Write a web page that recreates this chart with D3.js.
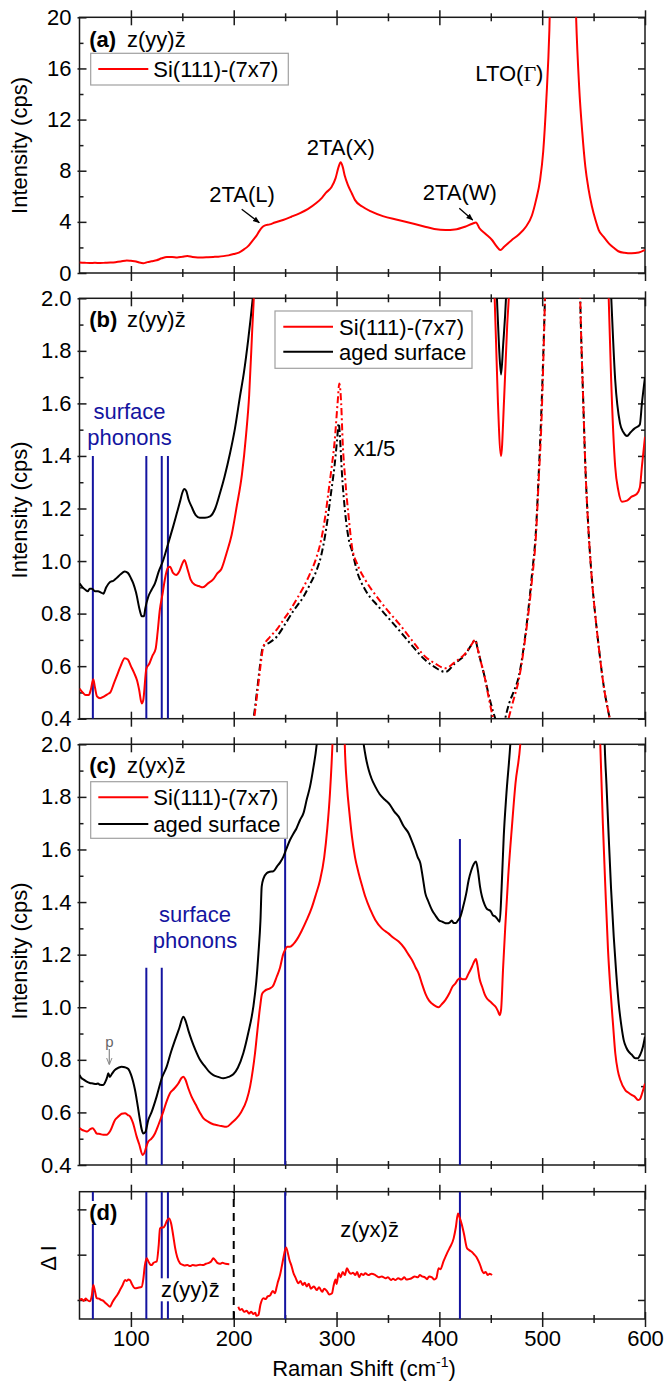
<!DOCTYPE html>
<html>
<head>
<meta charset="utf-8">
<script src="https://cdn.jsdelivr.net/npm/d3@7"></script>
<style>
  body { margin: 0; background: #fff; }
  text { font-family: "Liberation Sans", Arial, sans-serif; }
</style>
</head>
<body>
<svg id="chart" width="664" height="1383"></svg>
<script>
// ---------- Raman spectra, Raman shift (cm^-1) vs intensity ----------

// (a) z(yy)z̄, Si(111)-(7x7), full range
const aSi7x7 = [[50,0.82],[55,0.8],[60,0.78],[65,0.8],[70,0.78],[75,0.8],[80,0.82],[85,0.85],[90,0.9],[96,0.98],[100,0.95],[105,0.9],[108,0.82],[112,0.76],[116,0.85],[120,0.92],[125,1.0],[130,1.15],[135,1.25],[140,1.26],[145,1.22],[150,1.28],[155,1.33],[160,1.25],[165,1.22],[170,1.22],[175,1.24],[180,1.26],[185,1.28],[190,1.32],[195,1.38],[200,1.48],[205,1.6],[210,1.85],[214,2.1],[218,2.5],[222,2.9],[225,3.3],[228,3.6],[230,3.7],[235,3.8],[240,3.95],[248,4.15],[256,4.4],[264,4.67],[272,5.0],[280,5.45],[286,5.9],[290,6.3],[295,6.7],[299,7.4],[302,8.3],[304,8.66],[306,8.3],[308,7.6],[311,6.9],[315,6.2],[318,5.7],[325,5.2],[334,4.8],[345,4.45],[360,4.15],[375,3.85],[386,3.62],[395,3.45],[406,3.36],[415,3.4],[425,3.62],[432,3.85],[435.6,3.95],[439,3.5],[445,3.05],[451,2.6],[456,2.05],[459.3,1.8],[463,2.05],[470,2.55],[477,3.0],[484,3.6],[490,4.5],[494,5.7],[498,7.3],[501,9.5],[504,13.5],[507,19],[510,30],[515,60],[520,90],[525,60],[530,30],[533,20],[536,14.5],[539,11],[542,8.3],[545,6.6],[548.4,5.2],[552,4.1],[555,3.36],[560,2.8],[565,2.3],[570,1.95],[574,1.7],[580,1.58],[587,1.54],[594,1.6],[600,1.8]];

// (b) z(yy)z̄, low-intensity detail
const bSi7x7 = [[50,0.515],[53,0.5],[56,0.49],[59,0.49],[61,0.51],[63.4,0.55],[65,0.52],[67,0.485],[70,0.478],[74,0.485],[78,0.495],[80,0.5],[83,0.53],[86,0.56],[90,0.6],[94,0.63],[97,0.625],[100,0.6],[103,0.575],[106,0.545],[108,0.51],[110.5,0.458],[112,0.47],[115,0.59],[118,0.61],[121,0.64],[124,0.665],[126,0.73],[128,0.81],[131,0.88],[133,0.93],[136,0.975],[138,0.978],[141,0.955],[144,0.947],[147,0.96],[150,0.99],[152,1.004],[155,0.97],[158,0.93],[162,0.91],[166,0.905],[170,0.9],[175,0.915],[180,0.93],[184,0.953],[188,0.97],[193,1.03],[198,1.1],[203,1.21],[208,1.33],[212,1.48],[215,1.63],[218,1.88],[220,2.05],[224,2.8],[229,3.6],[240,3.9],[300,7.5],[400,3.4],[440,3.3],[450,2.6],[453,2.1],[455,1.85],[457,1.6],[460,1.40],[463,1.62],[466,1.9],[468,2.05],[470,2.4],[490,4.5],[520,90],[555,3.4],[562,2.3],[564.7,2.0],[567,1.7],[571,1.36],[574,1.27],[577.6,1.226],[582.5,1.23],[587,1.245],[592,1.255],[595,1.28],[597,1.36],[600,1.473]];
const bAged = [[50,0.915],[53,0.9],[56,0.89],[58,0.885],[60,0.895],[62,0.895],[65,0.885],[68,0.885],[71,0.88],[73.2,0.876],[76,0.9],[79.7,0.92],[83,0.925],[86,0.935],[90,0.95],[94,0.96],[97,0.955],[100,0.935],[102.3,0.915],[105,0.88],[108.8,0.81],[110.5,0.79],[112.7,0.79],[114,0.82],[116.9,0.864],[120,0.89],[123.4,0.915],[127,0.96],[131.5,1.004],[135,1.05],[138,1.09],[141,1.13],[144.5,1.18],[148,1.23],[150,1.26],[152,1.274],[154,1.265],[156,1.235],[159,1.207],[163,1.175],[167,1.165],[172,1.165],[177,1.17],[182,1.2],[186.6,1.258],[191,1.32],[196.4,1.41],[201,1.5],[206,1.625],[210,1.72],[214,1.84],[218.5,2.0],[222,2.15],[230,3.7],[300,7.5],[400,3.5],[450,2.7],[454,2.2],[456,2.0],[458,1.82],[460,1.71],[462,1.82],[464.8,2.0],[468,2.4],[490,4.5],[520,90],[560,3.0],[565,2.2],[567.2,2.0],[571,1.69],[575.7,1.524],[579,1.49],[582.5,1.476],[586,1.49],[590,1.505],[592.2,1.51],[595,1.52],[597,1.6],[600,1.70]];
// (b) same spectra scaled by 1/5
const bSi7x7Fifth = [[214,0.3],[217,0.36],[219.7,0.4],[223,0.5],[226,0.6],[228.8,0.674],[235,0.71],[242,0.74],[248.3,0.776],[256,0.82],[262,0.86],[267.8,0.90],[274,0.95],[280.7,1.017],[285,1.08],[289,1.17],[292,1.258],[295,1.35],[298,1.45],[301,1.6],[302.7,1.676],[304.5,1.6],[306,1.45],[308.5,1.308],[312,1.16],[315,1.055],[320,0.99],[328,0.928],[340,0.86],[350,0.81],[360.5,0.763],[373,0.7],[386.3,0.636],[396,0.61],[405.8,0.592],[415,0.615],[425.3,0.649],[431,0.68],[435,0.70],[437,0.67],[439.8,0.625],[444,0.56],[448,0.48],[451.2,0.42],[455,0.36],[460,0.32],[465,0.36],[467.3,0.4],[472,0.47],[477.2,0.547],[484,0.72],[490.1,0.928],[494,1.1],[496.6,1.308],[499,1.5],[501.5,1.816],[503,2.05],[510,4],[520,20],[530,4],[537,2.0],[540,1.6],[541.9,1.37],[545,1.12],[548.4,0.928],[552,0.78],[555,0.674],[560,0.52],[564.7,0.42],[568,0.36]];
const bAgedFifth = [[214,0.3],[217,0.36],[219.2,0.4],[222.5,0.5],[225.5,0.6],[228.5,0.674],[235,0.69],[241.8,0.712],[250,0.76],[258,0.81],[267.8,0.864],[274,0.91],[280.7,0.966],[285,1.02],[289,1.1],[292,1.18],[295,1.27],[298,1.36],[300.5,1.46],[302.1,1.524],[303.5,1.46],[305,1.35],[308.5,1.18],[312,1.08],[315,1.04],[320,0.96],[328,0.89],[340,0.83],[350,0.785],[360.5,0.738],[373,0.68],[386.3,0.623],[396,0.595],[405.8,0.578],[415,0.61],[425.3,0.645],[431,0.68],[435,0.70],[437,0.67],[439.8,0.625],[444,0.56],[448,0.49],[452,0.43],[454.4,0.4],[458,0.35],[461,0.34],[464,0.4],[468,0.46],[472,0.5],[477.2,0.56],[484,0.73],[490.1,0.95],[494,1.12],[496.6,1.33],[499,1.55],[501.5,1.84],[503,2.05],[510,4],[520,20],[530,4],[537,2.0],[540,1.6],[541.9,1.37],[545,1.12],[548.4,0.928],[552,0.78],[555,0.674],[560,0.52],[564.7,0.42],[568,0.36]];

// (c) z(yx)z̄
const cSi7x7 = [[50,0.54],[52,0.535],[55,0.53],[57.6,0.527],[60,0.535],[62.8,0.54],[65,0.53],[66.7,0.52],[70,0.518],[73,0.515],[76.4,0.515],[80,0.53],[84.5,0.571],[88,0.585],[91,0.595],[94.3,0.597],[97,0.59],[99.1,0.585],[102,0.56],[105.6,0.508],[108,0.48],[111.4,0.438],[113,0.445],[115,0.47],[116.9,0.489],[120,0.5],[123.4,0.52],[127,0.555],[131.5,0.603],[135,0.645],[138,0.673],[142,0.69],[146.1,0.71],[149,0.73],[151,0.736],[153,0.725],[156,0.69],[159,0.66],[163,0.63],[167,0.6],[170.4,0.578],[175,0.565],[180,0.555],[183.4,0.552],[188,0.548],[193,0.545],[198,0.56],[202.9,0.578],[207,0.6],[212.6,0.647],[216,0.7],[218.5,0.76],[220.7,0.825],[223,0.91],[225.6,1.0],[227.5,1.05],[230,1.062],[235.3,1.072],[238,1.08],[241.8,1.116],[245,1.15],[248,1.2],[249.9,1.218],[252,1.23],[254.7,1.23],[258,1.24],[261.2,1.256],[266,1.29],[271,1.332],[276,1.38],[280,1.43],[284,1.484],[288,1.57],[291,1.68],[293.6,1.814],[296,2.0],[299,2.4],[303,2.8],[306,2.4],[308,2.0],[310.2,1.839],[312.5,1.74],[315,1.649],[318,1.57],[321.5,1.51],[325,1.46],[328,1.42],[333,1.37],[337.7,1.332],[344,1.3],[350.7,1.28],[355,1.265],[360.4,1.25],[366,1.225],[370,1.2],[373.4,1.18],[377,1.15],[379.9,1.128],[383,1.09],[386.3,1.053],[390,1.025],[392.8,1.014],[396,1.005],[399.3,1.0],[402,1.01],[405.8,1.027],[410,1.055],[413,1.08],[415.5,1.09],[418,1.105],[420.4,1.11],[423,1.106],[425.2,1.106],[428,1.125],[431.7,1.154],[434,1.175],[435.6,1.183],[437,1.16],[439,1.11],[441.5,1.079],[444,1.05],[446.3,1.033],[450,1.02],[452.8,1.009],[455,1.0],[457,0.985],[458.7,0.97],[460,0.99],[462,1.15],[464.1,1.306],[467,1.5],[470.6,1.688],[474,1.85],[478.7,2.0],[485,2.5],[520,20],[550,2.6],[556.5,2.0],[559,1.7],[561.4,1.459],[564,1.22],[566.2,1.078],[569,0.93],[571.1,0.825],[573.5,0.76],[576,0.723],[580.8,0.685],[584,0.675],[587.4,0.666],[590,0.66],[593.2,0.647],[595,0.65],[597,0.67],[600,0.71]];
const cAged = [[50,0.742],[52,0.73],[54,0.725],[57,0.717],[60,0.712],[63,0.71],[66,0.708],[68,0.71],[70,0.705],[73.2,0.704],[75,0.715],[77,0.735],[78,0.749],[79.5,0.735],[81.3,0.745],[84,0.76],[88,0.77],[91,0.774],[94,0.772],[97.5,0.765],[100,0.745],[104,0.685],[106,0.64],[108.8,0.571],[110.5,0.535],[112,0.52],[114,0.525],[116.9,0.571],[120,0.6],[125,0.66],[130,0.73],[134.8,0.774],[139,0.83],[142.9,0.875],[147,0.92],[151,0.964],[153,0.95],[156,0.91],[159,0.875],[163,0.835],[167.2,0.80],[172,0.775],[176,0.755],[180.2,0.742],[185,0.735],[189.9,0.73],[195,0.735],[199.6,0.745],[204,0.77],[209.3,0.825],[214,0.9],[219,1.0],[222,1.1],[224,1.203],[226,1.33],[227.2,1.459],[229,1.49],[232,1.51],[235,1.515],[238.5,1.517],[242,1.535],[245,1.55],[248.3,1.573],[251,1.6],[254.7,1.636],[258,1.66],[261,1.68],[264.5,1.712],[268,1.74],[271,1.79],[274.2,1.839],[277,1.9],[280.7,2.0],[290,2.6],[303,3.2],[315,2.5],[326.4,2.0],[328.5,1.95],[331.3,1.902],[334,1.87],[337.7,1.839],[342,1.81],[347.4,1.788],[352,1.77],[356,1.745],[360.4,1.725],[365,1.69],[370.2,1.661],[373,1.635],[376.6,1.598],[379,1.57],[381.5,1.548],[384,1.49],[386.3,1.434],[389,1.405],[392.8,1.37],[396,1.35],[399.3,1.332],[403,1.325],[407.4,1.319],[410,1.322],[412,1.33],[414,1.32],[416,1.32],[418,1.33],[420.4,1.344],[423,1.38],[426,1.43],[428.5,1.484],[431,1.52],[433.5,1.545],[435.6,1.554],[437.5,1.52],[439.5,1.46],[441.5,1.42],[444,1.39],[446,1.375],[448,1.37],[450,1.365],[452,1.35],[454.4,1.345],[456.5,1.335],[458.7,1.325],[460.5,1.45],[462.6,1.649],[465,1.8],[469,2.0],[480,3],[520,20],[558,2.6],[560.8,2.0],[562.5,1.85],[564.7,1.649],[567,1.45],[569.6,1.268],[572,1.13],[574.4,1.015],[577,0.93],[579.3,0.875],[582,0.845],[584.1,0.831],[587,0.82],[590.6,0.806],[593,0.806],[595.4,0.82],[598,0.85],[600,0.888]];

// (d) difference spectra ΔI (arb. units)
const dDiffYY = [[50,0.0],[52,0.02],[54,-0.02],[56,0.03],[57.6,0.0],[60.2,-0.03],[62,0.1],[63.4,0.33],[65,0.2],[66.7,0.04],[69,0.03],[71,0.0],[73.2,-0.02],[75,-0.06],[77,-0.1],[79.7,-0.15],[82,-0.05],[84.5,0.04],[87,0.12],[89.4,0.22],[92,0.33],[94.3,0.44],[96,0.42],[97.5,0.45],[99.1,0.44],[101,0.35],[104,0.257],[107,0.27],[110.5,0.29],[112,0.45],[113.5,0.75],[115.3,0.92],[117,0.85],[118.5,0.79],[120.2,0.77],[122,0.82],[124,0.84],[125.1,0.85],[127,1.2],[128.3,1.58],[130,1.6],[131.5,1.6],[133.2,1.65],[135,1.75],[137.1,1.80],[139,1.7],[141.3,1.40],[143,1.15],[145,0.95],[147.8,0.81],[150,0.78],[152,0.76],[155,0.77],[157.5,0.75],[160,0.77],[163,0.76],[167.2,0.78],[170,0.77],[173,0.8],[176,0.82],[178,0.85],[180.2,0.92],[182,0.88],[184,0.82],[186.6,0.8],[189,0.82],[192,0.8],[195.7,0.79]];
const dDiffYX = [[204.5,-0.15],[206,-0.22],[208,-0.2],[210,-0.26],[212.6,-0.24],[215,-0.3],[217,-0.26],[219.1,-0.31],[221,-0.28],[222,-0.35],[224,-0.33],[226,-0.1],[228.9,0.04],[231,0.02],[233,0.08],[235.3,0.1],[238,0.2],[240,0.15],[241.8,0.29],[243,0.4],[245,0.55],[246.7,0.735],[248.5,0.95],[250.9,1.16],[252.5,1.05],[254,0.9],[256.4,0.735],[258,0.6],[260,0.5],[262.9,0.37],[265,0.42],[267,0.33],[269,0.38],[271,0.3],[273,0.36],[275,0.25],[278,0.3],[280.7,0.22],[283,0.28],[286,0.18],[288,0.25],[290.5,0.2],[293,0.12],[295.6,0.147],[297,0.3],[299,0.45],[300,0.35],[302.1,0.59],[304,0.5],[306,0.62],[308,0.55],[310.2,0.70],[312,0.62],[314,0.58],[316,0.6],[318.3,0.55],[320,0.62],[322,0.5],[324,0.58],[326,0.55],[328,0.59],[331,0.55],[334,0.58],[337.7,0.55],[341,0.5],[344,0.52],[347.4,0.48],[350,0.5],[353,0.44],[355,0.47],[357.1,0.44],[360,0.48],[363,0.45],[366,0.5],[368,0.45],[370.2,0.46],[373,0.48],[376,0.52],[379,0.5],[381,0.55],[383.1,0.52],[386,0.5],[388,0.46],[390,0.52],[392.8,0.5],[395,0.45],[397,0.48],[399.3,0.70],[401,0.68],[404,0.85],[407.4,1.03],[410,1.15],[413.9,1.36],[416,1.6],[418.1,1.91],[420,1.8],[422,1.65],[424,1.45],[426.9,1.14],[429,1.1],[431.7,1.06],[434,1.0],[436,0.95],[438.2,0.85],[440,0.75],[441.5,0.65],[443.1,0.59],[445,0.62],[447,0.55],[449,0.58],[451.2,0.55]];

// surface phonon positions (cm^-1)
const yyModes = [63, 115, 130, 136];
const yxModesLow = [115, 130];
const yxModesHigh = [250, 420];
const diffModes = [63, 115, 130, 136, 250, 420];

// axis ticks
const shiftMajor = [100, 200, 300, 400, 500, 600];
const shiftMinor = [150, 250, 350, 450, 550];
const aTicks = [0, 4, 8, 12, 16, 20];
const aMinor = [2, 6, 10, 14, 18];
const bcTicks = [0.4, 0.6, 0.8, 1.0, 1.2, 1.4, 1.6, 1.8, 2.0];
const bcMinor = [0.5, 0.7, 0.9, 1.1, 1.3, 1.5, 1.7, 1.9];
const dTicks = [0, 1, 2];

const RED = "#ff0000", BLACK = "#000000", BLUE = "#1414a0";
const FONT = 22;

const svg = d3.select("#chart");
const x = d3.scaleLinear().domain([50, 600]).range([79.5, 645]);

const panels = {
  a: { y: d3.scaleLinear().domain([0, 20]).range([273, 17.3]), major: aTicks, minor: aMinor, fmt: d3.format("d") },
  b: { y: d3.scaleLinear().domain([0.4, 2.0]).range([718.7, 298.3]), major: bcTicks, minor: bcMinor, fmt: d3.format(".1f") },
  c: { y: d3.scaleLinear().domain([0.4, 2.0]).range([1165, 744.3]), major: bcTicks, minor: bcMinor, fmt: d3.format(".1f") },
  d: { y: d3.scaleLinear().domain([-0.42, 2.39]).range([1319, 1191.7]), major: dTicks, minor: [], fmt: null }
};

const defs = svg.append("defs");
defs.append("marker").attr("id", "arrow").attr("viewBox", "0 0 10 10")
  .attr("refX", 9).attr("refY", 5).attr("markerWidth", 7).attr("markerHeight", 7)
  .attr("orient", "auto").attr("markerUnits", "userSpaceOnUse")
  .append("path").attr("d", "M0,1 L10,5 L0,9 z").attr("fill", "#000");
defs.append("marker").attr("id", "arrowGray").attr("viewBox", "0 0 10 10")
  .attr("refX", 9).attr("refY", 5).attr("markerWidth", 7).attr("markerHeight", 7)
  .attr("orient", "auto").attr("markerUnits", "userSpaceOnUse")
  .append("path").attr("d", "M0,1 L10,5 L0,9").attr("fill", "none").attr("stroke", "#888").attr("stroke-width", 1.4);

function styleAxis(g) {
  g.attr("font-size", FONT).attr("font-family", '"Liberation Sans", Arial, sans-serif');
  g.select(".domain").remove();
  g.selectAll(".tick line").attr("stroke", "#1a1a1a").attr("stroke-width", 1.5);
  g.selectAll(".tick text").attr("fill", "#000");
}

function frame(key, showShiftLabels) {
  const p = panels[key];
  const [yb, yt] = p.y.range();
  const g = svg.append("g").attr("class", "frame-" + key);

  // bottom and top shift axes: major ticks cross the spine, minor ticks shorter
  const bot = g.append("g").attr("transform", `translate(0,${yb})`)
    .call(d3.axisBottom(x).tickValues(shiftMajor).tickSize(8).tickPadding(3)
      .tickFormat(showShiftLabels ? d3.format("d") : () => ""));
  styleAxis(bot); bot.selectAll(".tick line").attr("y1", -7);
  const botMin = g.append("g").attr("transform", `translate(0,${yb})`)
    .call(d3.axisBottom(x).tickValues(shiftMinor).tickSize(4).tickFormat(() => ""));
  styleAxis(botMin); botMin.selectAll(".tick line").attr("y1", -4);

  const top = g.append("g").attr("transform", `translate(0,${yt})`)
    .call(d3.axisTop(x).tickValues(shiftMajor).tickSize(7).tickFormat(() => ""));
  styleAxis(top); top.selectAll(".tick line").attr("y1", 8);
  const topMin = g.append("g").attr("transform", `translate(0,${yt})`)
    .call(d3.axisTop(x).tickValues(shiftMinor).tickSize(4).tickFormat(() => ""));
  styleAxis(topMin); topMin.selectAll(".tick line").attr("y1", 4);

  // intensity axes: ticks pointing into the plot
  const left = g.append("g").attr("transform", `translate(${x.range()[0]},0)`)
    .call(d3.axisLeft(p.y).tickValues(p.major).tickSize(2).tickPadding(6)
      .tickFormat(p.fmt ? p.fmt : () => ""));
  styleAxis(left); left.selectAll(".tick line").attr("x1", 7);
  if (p.minor.length) {
    const leftMin = g.append("g").attr("transform", `translate(${x.range()[0]},0)`)
      .call(d3.axisLeft(p.y).tickValues(p.minor).tickSize(0).tickFormat(() => ""));
    styleAxis(leftMin); leftMin.selectAll(".tick line").attr("x1", 4);
  }
  const right = g.append("g").attr("transform", `translate(${x.range()[1]},0)`)
    .call(d3.axisRight(p.y).tickValues(p.major).tickSize(0).tickFormat(() => ""));
  styleAxis(right); right.selectAll(".tick line").attr("x1", -7);
  if (p.minor.length) {
    const rightMin = g.append("g").attr("transform", `translate(${x.range()[1]},0)`)
      .call(d3.axisRight(p.y).tickValues(p.minor).tickSize(0).tickFormat(() => ""));
    styleAxis(rightMin); rightMin.selectAll(".tick line").attr("x1", -4);
  }

  g.append("rect")
    .attr("x", x.range()[0]).attr("y", yt)
    .attr("width", x.range()[1] - x.range()[0]).attr("height", yb - yt)
    .attr("fill", "none").attr("stroke", "#1a1a1a").attr("stroke-width", 1.5);

  // clip for the spectra
  defs.append("clipPath").attr("id", "clip-" + key).append("rect")
    .attr("x", x.range()[0]).attr("y", yt)
    .attr("width", x.range()[1] - x.range()[0]).attr("height", yb - yt);
}

function plotArea(key) {
  return svg.append("g").attr("clip-path", `url(#clip-${key})`);
}

function spectrum(g, key, data, color, dash) {
  const y = panels[key].y;
  const line = d3.line().x(d => x(d[0])).y(d => y(d[1])).curve(d3.curveMonotoneX);
  g.append("path").datum(data)
    .attr("d", line).attr("fill", "none")
    .attr("stroke", color).attr("stroke-width", 2)
    .attr("stroke-linejoin", "round")
    .attr("stroke-dasharray", dash || null);
}

function modeLines(g, key, modes, top) {
  const y = panels[key].y;
  g.selectAll(null).data(modes).enter().append("line")
    .attr("x1", d => x(d)).attr("x2", d => x(d))
    .attr("y1", y.range()[0]).attr("y2", top === undefined ? y.range()[1] : y(top))
    .attr("stroke", BLUE).attr("stroke-width", 2);
}

function label(px, py, str, opts = {}) {
  const t = svg.append("text").attr("x", px).attr("y", py)
    .attr("font-size", opts.size || FONT)
    .attr("font-weight", opts.bold ? "bold" : null)
    .attr("fill", opts.color || "#000")
    .attr("text-anchor", opts.anchor || "start")
    .text(str);
  if (opts.bg) {
    const bb = t.node().getBBox();
    svg.insert("rect", () => t.node())
      .attr("x", bb.x - 1).attr("y", bb.y + 1).attr("width", bb.width + 2).attr("height", bb.height - 2)
      .attr("fill", "#fff");
  }
  return t;
}

function legend(bx, by, bw, bh, entries, lineX0, lineX1, textX) {
  svg.append("rect").attr("x", bx).attr("y", by).attr("width", bw).attr("height", bh)
    .attr("fill", "#fff").attr("stroke", "#a0a0a0").attr("stroke-width", 1.2);
  entries.forEach(e => {
    svg.append("line").attr("x1", lineX0).attr("x2", lineX1).attr("y1", e.y).attr("y2", e.y)
      .attr("stroke", e.color).attr("stroke-width", 2);
    label(textX, e.y + 8, e.text);
  });
}

const zbar = "z(yy)z\u0304";
const zbarYX = "z(yx)z\u0304";

// ---------- panel (a) ----------
frame("a", false);
spectrum(plotArea("a"), "a", aSi7x7, RED);
label(89.3, 46.7, "(a)", { bold: true });
label(127, 46.7, zbar);
legend(90.7, 53.3, 197.6, 31.7, [{ y: 69, color: RED, text: "Si(111)-(7x7)" }], 98.3, 148.3, 153.3);
label(209.3, 201.7, "2TA(L)");
label(306.7, 155, "2TA(X)");
label(422.7, 200, "2TA(W)");
const lto = label(475.3, 81, "LTO(");
lto.append("tspan").attr("font-family", '"Liberation Serif", "Times New Roman", serif').text("\u0393");
lto.append("tspan").text(")");
svg.append("line").attr("x1", 241.7).attr("y1", 209.3).attr("x2", 259.3).attr("y2", 222.7)
  .attr("stroke", "#000").attr("stroke-width", 1.3).attr("marker-end", "url(#arrow)");
svg.append("line").attr("x1", 459.3).attr("y1", 208.3).attr("x2", 472.7).attr("y2", 220)
  .attr("stroke", "#000").attr("stroke-width", 1.3).attr("marker-end", "url(#arrow)");

// ---------- panel (b) ----------
frame("b", false);
const gb = plotArea("b");
modeLines(gb, "b", yyModes, 1.4);
spectrum(gb, "b", bAged, BLACK);
spectrum(gb, "b", bSi7x7, RED);
spectrum(gb, "b", bAgedFifth, BLACK, "7,3,2,3");
spectrum(gb, "b", bSi7x7Fifth, RED, "7,3,2,3");
label(89.3, 326.7, "(b)", { bold: true });
label(127, 326.7, zbar);
label(129.5, 419, "surface", { anchor: "middle", color: BLUE });
label(129.5, 445, "phonons", { anchor: "middle", color: BLUE });
label(353.7, 456, "x1/5");
legend(275, 311, 197, 57.3, [
  { y: 326.7, color: RED, text: "Si(111)-(7x7)" },
  { y: 351.7, color: BLACK, text: "aged surface" }
], 283.3, 333, 339);

// ---------- panel (c) ----------
frame("c", false);
const gc = plotArea("c");
modeLines(gc, "c", yxModesLow, 1.15);
modeLines(gc, "c", yxModesHigh, 1.64);
spectrum(gc, "c", cAged, BLACK);
spectrum(gc, "c", cSi7x7, RED);
label(89.3, 772.7, "(c)", { bold: true });
label(127, 772.7, zbarYX);
legend(90.7, 781.7, 196.6, 56.6, [
  { y: 797.3, color: RED, text: "Si(111)-(7x7)" },
  { y: 824, color: BLACK, text: "aged surface" }
], 98.3, 148.3, 153.3);
label(195, 921.7, "surface", { anchor: "middle", color: BLUE });
label(195, 948.3, "phonons", { anchor: "middle", color: BLUE });
label(109.3, 1046.7, "p", { size: 15, color: "#666", anchor: "middle" });
svg.append("line").attr("x1", 109.3).attr("y1", 1049).attr("x2", 109.3).attr("y2", 1064)
  .attr("stroke", "#888").attr("stroke-width", 1.2).attr("marker-end", "url(#arrowGray)");

// ---------- panel (d) ----------
frame("d", true);
const gd = plotArea("d");
modeLines(gd, "d", diffModes);
gd.append("line").attr("x1", x(200)).attr("x2", x(200))
  .attr("y1", panels.d.y.range()[0]).attr("y2", panels.d.y.range()[1])
  .attr("stroke", "#000").attr("stroke-width", 2).attr("stroke-dasharray", "8,6");
spectrum(gd, "d", dDiffYY, RED);
spectrum(gd, "d", dDiffYX, RED);
label(89.3, 1220, "(d)", { bold: true, bg: true });
label(161, 1297.3, zbar, { bg: true });
label(340.3, 1236.7, zbarYX);

// ---------- axis titles ----------
[[145.5, "Intensity (cps)"], [510, "Intensity (cps)"], [951, "Intensity (cps)"]].forEach(([cy, s]) => {
  svg.append("text").attr("transform", `translate(27,${cy}) rotate(-90)`)
    .attr("text-anchor", "middle").attr("font-size", FONT).text(s);
});
svg.append("text").attr("transform", "translate(56,1258) rotate(-90)")
  .attr("text-anchor", "middle").attr("font-size", FONT).text("\u0394 I");
const xt = svg.append("text").attr("x", 364).attr("y", 1376).attr("text-anchor", "middle")
  .attr("font-size", FONT).text("Raman Shift (cm");
xt.append("tspan").attr("font-size", 14).attr("dy", -9).text("-1");
xt.append("tspan").attr("dy", 9).text(")");
</script>
</body>
</html>
